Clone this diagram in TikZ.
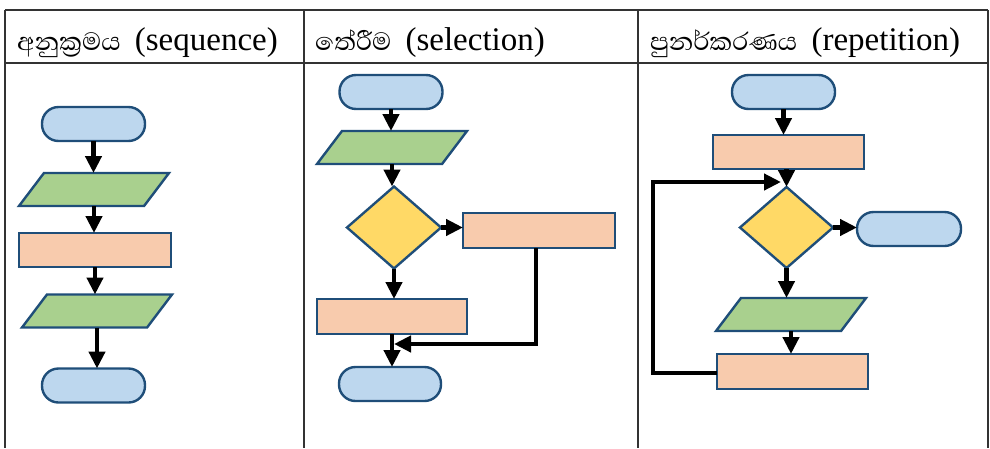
\documentclass[tikz,border=0pt]{standalone}
\usepackage{fontspec}
\setmainfont{Liberation Serif}
\newfontfamily\sinhalafont[Script=Sinhala]{Abhaya Libre}
\usetikzlibrary{arrows.meta,shapes.geometric}
\definecolor{bord}{HTML}{1F4E79}
\definecolor{tblue}{HTML}{BDD7EE}
\definecolor{tgreen}{HTML}{A9D08E}
\definecolor{tsalmon}{HTML}{F8CBAD}
\definecolor{tyellow}{HTML}{FFD966}
\definecolor{tline}{HTML}{333333}
\tikzset{
  shapebase/.style={draw=bord, line width=2.4pt, inner sep=0pt, outer sep=0pt},
  term/.style={shapebase, fill=tblue, rectangle, rounded corners=16.5pt, minimum width=103pt, minimum height=34pt},
  proc/.style={shapebase, fill=tsalmon, rectangle, minimum width=151pt, minimum height=34pt},
  io/.style={shapebase, inner sep=1pt, fill=tgreen, trapezium, trapezium left angle=76, trapezium right angle=104, trapezium stretches=true, minimum width=150pt, minimum height=33pt},
  dec/.style={shapebase, inner sep=1pt, fill=tyellow, diamond, aspect=1.14, minimum width=94pt, minimum height=82pt},
  flow/.style={line width=4.2pt, -{Triangle[length=17pt,width=16pt]}},
  tabline/.style={draw=tline, line width=2.4pt},
  head/.style={anchor=base west, inner sep=0pt, font=\fontsize{33}{40}\selectfont},
  sinh/.style={font=\fontsize{32}{40}\selectfont\sinhalafont}
}
\begin{document}
\begin{tikzpicture}[x=1pt,y=-1pt]
\useasboundingbox (0,0) rectangle (990,448);
% table
\draw[tabline] (5,10) -- (988,10);
\draw[tabline] (5,63) -- (988,63);
\draw[tabline] (5,10) -- (5,448);
\draw[tabline] (304,10) -- (304,448);
\draw[tabline] (638,10) -- (638,448);
\draw[tabline] (988,10) -- (988,448);
% headers
\node[head] (h1) at (17,50) {{\fontsize{32}{40}\selectfont\sinhalafont අනුක්^^^^200dරමය}\hspace{6pt} (sequence)};
\node[head] (h2) at (315,50) {{\fontsize{32}{40}\selectfont\sinhalafont තේරීම}\hspace{6pt} (selection)};
\node[head] (h3) at (650,50) {{\fontsize{32}{40}\selectfont\sinhalafont පුනර්කරණය}\hspace{6pt} (repetition)};
% sequence
\node[term] (a1) at (93.5,124) {};
\node[io] (a2) at (94,189.5) {};
\node[proc, minimum width=152pt] (a3) at (95,250) {};
\node[io] (a4) at (97,311) {};
\node[term] (a5) at (93.5,385.5) {};
\draw[flow] (a1.south) -- (a1.south |- a2.north);
\draw[flow] (a2.south) -- (a2.south |- a3.north);
\draw[flow] (a3.south) -- (a3.south |- a4.north);
\draw[flow] (a4.south) -- (a4.south |- a5.north);
% selection
\node[term] (b1) at (391,92) {};
\node[io] (b2) at (392,147.5) {};
\node[dec] (b3) at (394,227.5) {};
\node[proc, minimum width=152pt, minimum height=35pt] (b4) at (539,230.5) {};
\node[proc, minimum width=150pt, minimum height=35pt] (b5) at (392,316.5) {};
\node[term, minimum width=102pt] (b6) at (390,384) {};
\coordinate (bj1) at (536,344);
\coordinate (bj2) at (394,344);
\draw[flow] (b1.south) -- (b1.south |- b2.north);
\draw[flow] (b2.south) -- (b2.south |- b3.north);
\draw[flow] (b3.east) -- (b3.east -| b4.west);
\draw[flow] (b3.south) -- (b3.south |- b5.north);
\draw[flow] (b5.south) -- (b5.south |- b6.north);
\draw[flow] (b4.south -| bj1) -- (bj1) -- (bj2);
% repetition
\node[term] (c1) at (783.5,92) {};
\node[proc] (c2) at (788.5,152) {};
\node[dec, minimum width=93pt, minimum height=81pt] (c3) at (786.5,227.5) {};
\node[term, minimum width=104pt] (c4) at (909,229) {};
\node[io] (c5) at (791,314.5) {};
\node[proc, minimum height=35pt] (c6) at (792.5,371.5) {};
\coordinate (cl1) at (653,373);
\coordinate (cl2) at (653,182);
\coordinate (cl3) at (781,182);
\draw[flow] (c1.south) -- (c1.south |- c2.north);
\draw[flow] (c2.south -| c3.north) -- (c3.north);
\draw[flow] (c3.east) -- (c3.east -| c4.west);
\draw[flow] (c3.south) -- (c3.south |- c5.north);
\draw[flow] (c5.south) -- (c5.south |- c6.north);
\draw[flow] (c6.west |- cl1) -- (cl1) -- (cl2) -- (cl3);
\end{tikzpicture}
\end{document}
